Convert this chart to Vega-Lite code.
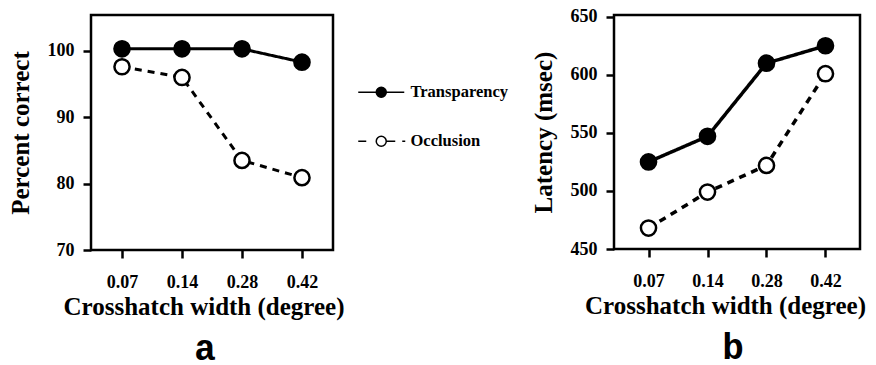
{
  "$schema": "https://vega.github.io/schema/vega-lite/v6.json",
  "background": "white",
  "padding": {"left": 6, "top": 6, "right": 0, "bottom": 0},
  "bounds": "flush",
  "spacing": 281,
  "config": {
    "view": {"stroke": "black", "strokeWidth": 2.5},
    "axis": {
      "grid": false,
      "domain": false,
      "labelFont": "Liberation Serif",
      "labelFontWeight": "bold",
      "labelFontSize": 18,
      "labelColor": "black",
      "titleFont": "Liberation Serif",
      "titleFontWeight": "bold",
      "titleFontSize": 25,
      "titleColor": "black",
      "tickColor": "black",
      "tickWidth": 2.5,
      "tickSize": 8
    },
    "axisX": {"labelPadding": 15, "titlePadding": 3, "labelAngle": 0},
    "axisY": {"labelPadding": 9, "titlePadding": 14},
    "legend": {"orient": "none", "title": null, "padding": 0, "symbolSize": 100, "labelOffset": 21, "rowPadding": 32, "labelFont": "Liberation Serif", "labelFontWeight": "bold", "labelFontSize": 16.5, "labelColor": "black"}
  },
  "datasets": {
    "a": [
      {"width": "0.07", "series": "Transparency", "value": 100.3},
      {"width": "0.14", "series": "Transparency", "value": 100.3},
      {"width": "0.28", "series": "Transparency", "value": 100.3},
      {"width": "0.42", "series": "Transparency", "value": 98.3},
      {"width": "0.07", "series": "Occlusion", "value": 97.6},
      {"width": "0.14", "series": "Occlusion", "value": 96.0},
      {"width": "0.28", "series": "Occlusion", "value": 83.5},
      {"width": "0.42", "series": "Occlusion", "value": 80.9}
    ],
    "b": [
      {"width": "0.07", "series": "Transparency", "value": 525},
      {"width": "0.14", "series": "Transparency", "value": 547},
      {"width": "0.28", "series": "Transparency", "value": 610},
      {"width": "0.42", "series": "Transparency", "value": 625},
      {"width": "0.07", "series": "Occlusion", "value": 468},
      {"width": "0.14", "series": "Occlusion", "value": 499},
      {"width": "0.28", "series": "Occlusion", "value": 522},
      {"width": "0.42", "series": "Occlusion", "value": 601}
    ]
  },
  "resolve": {"legend": {"fill": "independent", "shape": "independent"}},
  "hconcat": [
    {
      "width": 242,
      "height": 235,
      "data": {"name": "a"},
      "title": {"text": "a", "orient": "bottom", "font": "Liberation Mono", "fontSize": 36, "fontWeight": "bold", "color": "black", "offset": 13, "dx": -7},
      "encoding": {
        "x": {"field": "width", "type": "ordinal", "sort": ["0.07", "0.14", "0.28", "0.42"], "scale": {"type": "point", "padding": 0.517}, "axis": {"title": "Crosshatch width (degree)", "titleX": 112.5}},
        "y": {"field": "value", "type": "quantitative", "scale": {"domain": [70, 105.4], "nice": false, "zero": false}, "axis": {"values": [70, 80, 90, 100], "title": "Percent correct"}}
      },
      "layer": [
        {
          "mark": {"type": "line", "stroke": "black", "strokeWidth": 3},
          "encoding": {"strokeDash": {"field": "series", "type": "nominal", "scale": {"domain": ["Transparency", "Occlusion"], "range": [[1, 0], [7, 6]]}, "legend": null}}
        },
        {
          "mark": {"type": "point", "shape": "circle", "size": 230, "filled": true, "stroke": "black", "strokeWidth": 2.5, "opacity": 1},
          "encoding": {
            "fill": {"field": "series", "type": "nominal", "scale": {"domain": ["Transparency", "Occlusion"], "range": ["black", "white"]},
              "legend": {"legendX": 282, "legendY": 69, "encode": {"symbols": {"update": {"stroke": {"value": "black"}, "strokeWidth": {"value": 2.5}, "opacity": {"value": 1}}}}}}
          }
        },
        {
          "transform": [{"filter": "false"}],
          "mark": {"type": "point", "filled": true, "stroke": "black", "strokeWidth": 2.5, "opacity": 1},
          "encoding": {
            "fill": {"field": "series", "type": "nominal", "scale": {"domain": ["Transparency", "Occlusion"], "range": ["black", "white"]},
              "legend": {"legendX": 282, "legendY": 69, "encode": {"symbols": {"update": {"stroke": {"value": "black"}, "strokeWidth": {"value": 2.5}, "opacity": {"value": 1}}}}}},
            "shape": {"field": "series", "type": "nominal", "scale": {"domain": ["Transparency", "Occlusion"], "range": ["M-4.6,0H-1M1,0H4.6M1,0A1,1,0,1,1,-1,0A1,1,0,1,1,1,0Z", "M-4.6,0H-3M1,0H2.8M4.2,0H4.8M1,0A1,1,0,1,1,-1,0A1,1,0,1,1,1,0Z"]},
              "legend": {"legendX": 282, "legendY": 69, "encode": {"symbols": {"update": {"stroke": {"value": "black"}, "strokeWidth": {"value": 2.5}, "opacity": {"value": 1}}}}}}
          }
        }
      ]
    },
    {
      "width": 246,
      "height": 234,
      "data": {"name": "b"},
      "title": {"text": "b", "orient": "bottom", "font": "Liberation Mono", "fontSize": 36, "fontWeight": "bold", "color": "black", "offset": 13, "dx": -4},
      "encoding": {
        "x": {"field": "width", "type": "ordinal", "sort": ["0.07", "0.14", "0.28", "0.42"], "scale": {"type": "point", "padding": 0.585}, "axis": {"title": "Crosshatch width (degree)", "titleX": 111}},
        "y": {"field": "value", "type": "quantitative", "scale": {"domain": [450, 651.5], "nice": false, "zero": false}, "axis": {"values": [450, 500, 550, 600, 650], "title": "Latency (msec)"}}
      },
      "layer": [
        {
          "mark": {"type": "line", "stroke": "black", "strokeWidth": 3.5},
          "encoding": {"strokeDash": {"field": "series", "type": "nominal", "scale": {"domain": ["Transparency", "Occlusion"], "range": [[1, 0], [7, 6]]}, "legend": null}}
        },
        {
          "mark": {"type": "point", "shape": "circle", "size": 230, "filled": true, "stroke": "black", "strokeWidth": 2.5, "opacity": 1},
          "encoding": {"fill": {"field": "series", "type": "nominal", "scale": {"domain": ["Transparency", "Occlusion"], "range": ["black", "white"]}, "legend": null}}
        }
      ]
    }
  ]
}
